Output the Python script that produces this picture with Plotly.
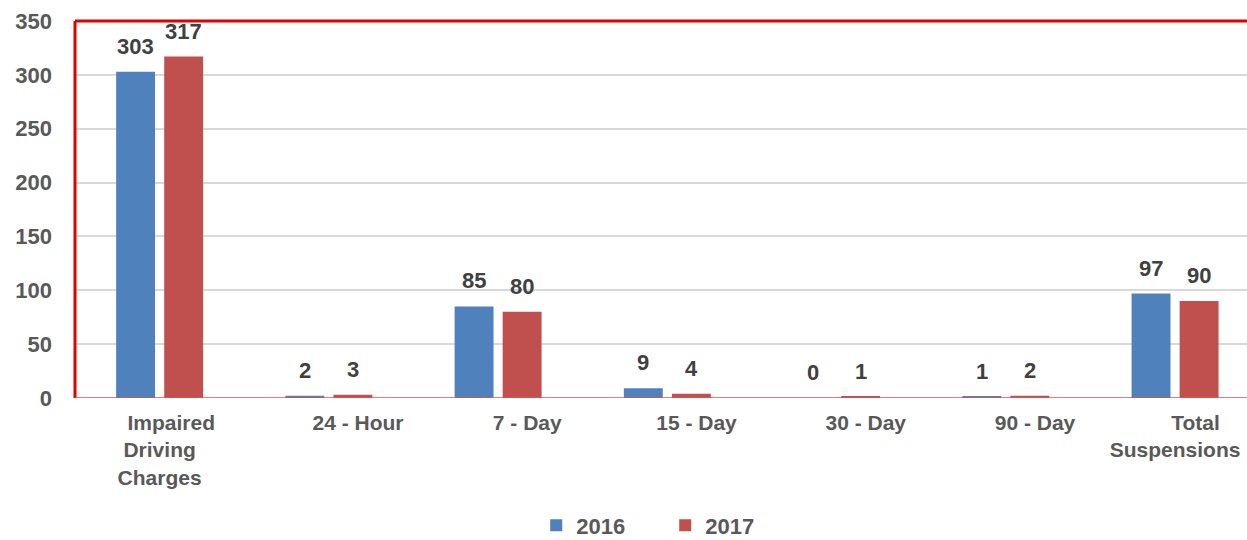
import plotly.graph_objects as go

NB = "\u00a0"
categories = [NB * 4 + "Impaired<br>Driving<br>Charges", NB * 10 + "24 - Hour", NB * 10 + "7 - Day",
              NB * 10 + "15 - Day", NB * 10 + "30 - Day", NB * 10 + "90 - Day",
              NB * 7 + "Total<br>Suspensions"]
values_2016 = [303, 2, 85, 9, 0, 1, 97]
values_2017 = [317, 3, 80, 4, 1, 2, 90]
y_ticks = [0, 50, 100, 150, 200, 250, 300, 350]

FONT = "Arial, Liberation Sans"
BAR_W = 0.23
OFF_2016 = -0.257
OFF_2017 = 0.027

idx = list(range(len(categories)))

fig = go.Figure()
fig.add_trace(go.Bar(
    x=idx, y=values_2016, name="2016",
    marker=dict(color="#4f81bd", line=dict(width=0)),
    width=BAR_W, offset=OFF_2016,
))
fig.add_trace(go.Bar(
    x=idx, y=values_2017, name="2017",
    marker=dict(color="#c0504d", line=dict(width=0)),
    width=BAR_W, offset=OFF_2017,
))

# data labels
for series, off in ((values_2016, OFF_2016), (values_2017, OFF_2017)):
    for i, v in zip(idx, series):
        fig.add_annotation(
            x=i + off + BAR_W / 2, y=v, xref="x", yref="y",
            text=str(v), showarrow=False, yanchor="bottom", yshift=11,
            font=dict(family=FONT, size=22, color="#404040", weight="bold"),
        )

fig.update_layout(
    width=1247, height=540,
    margin=dict(l=75, r=0, t=21, b=142, autoexpand=False),
    paper_bgcolor="white", plot_bgcolor="white",
    barmode="overlay",
    font=dict(family=FONT, color="#595959", weight="bold"),
    showlegend=True,
    legend=dict(orientation="h", xref="container", yref="container",
                x=0.430, xanchor="left", y=0.027, yanchor="middle",
                font=dict(size=22, color="#595959", weight="bold"),
                itemwidth=30, entrywidth=84, tracegroupgap=0),
)
fig.update_xaxes(
    range=[-0.5, 6.425], showgrid=False, showline=False, ticks="",
    tickvals=idx, ticktext=categories, ticklabeloverflow="allow",
    tickfont=dict(family=FONT, size=21, color="#595959", weight="bold"),
    ticklabelstandoff=10,
)
fig.update_yaxes(
    range=[0, 350], tickvals=y_ticks, showgrid=True, gridcolor="#d9d9d9",
    gridwidth=2, zeroline=False, showline=False, ticks="",
    tickfont=dict(family=FONT, size=22, color="#595959", weight="bold"),
    ticklabelstandoff=22,
)
# Frame
fig.add_shape(type="line", xref="paper", yref="paper", x0=0, x1=0, y0=0, y1=1,
              line=dict(color="#e00000", width=3))
fig.add_shape(type="line", xref="paper", yref="paper", x0=0, x1=1, y0=1, y1=1,
              line=dict(color="#e00000", width=3))
fig.add_shape(type="line", xref="paper", yref="y", x0=0, x1=1, y0=0, y1=0,
              line=dict(color="#e05050", width=1.5))

fig.write_html("out.html", config={"displayModeBar": False},
               post_script="document.body.style.margin='0px';document.body.style.overflow='hidden';")
